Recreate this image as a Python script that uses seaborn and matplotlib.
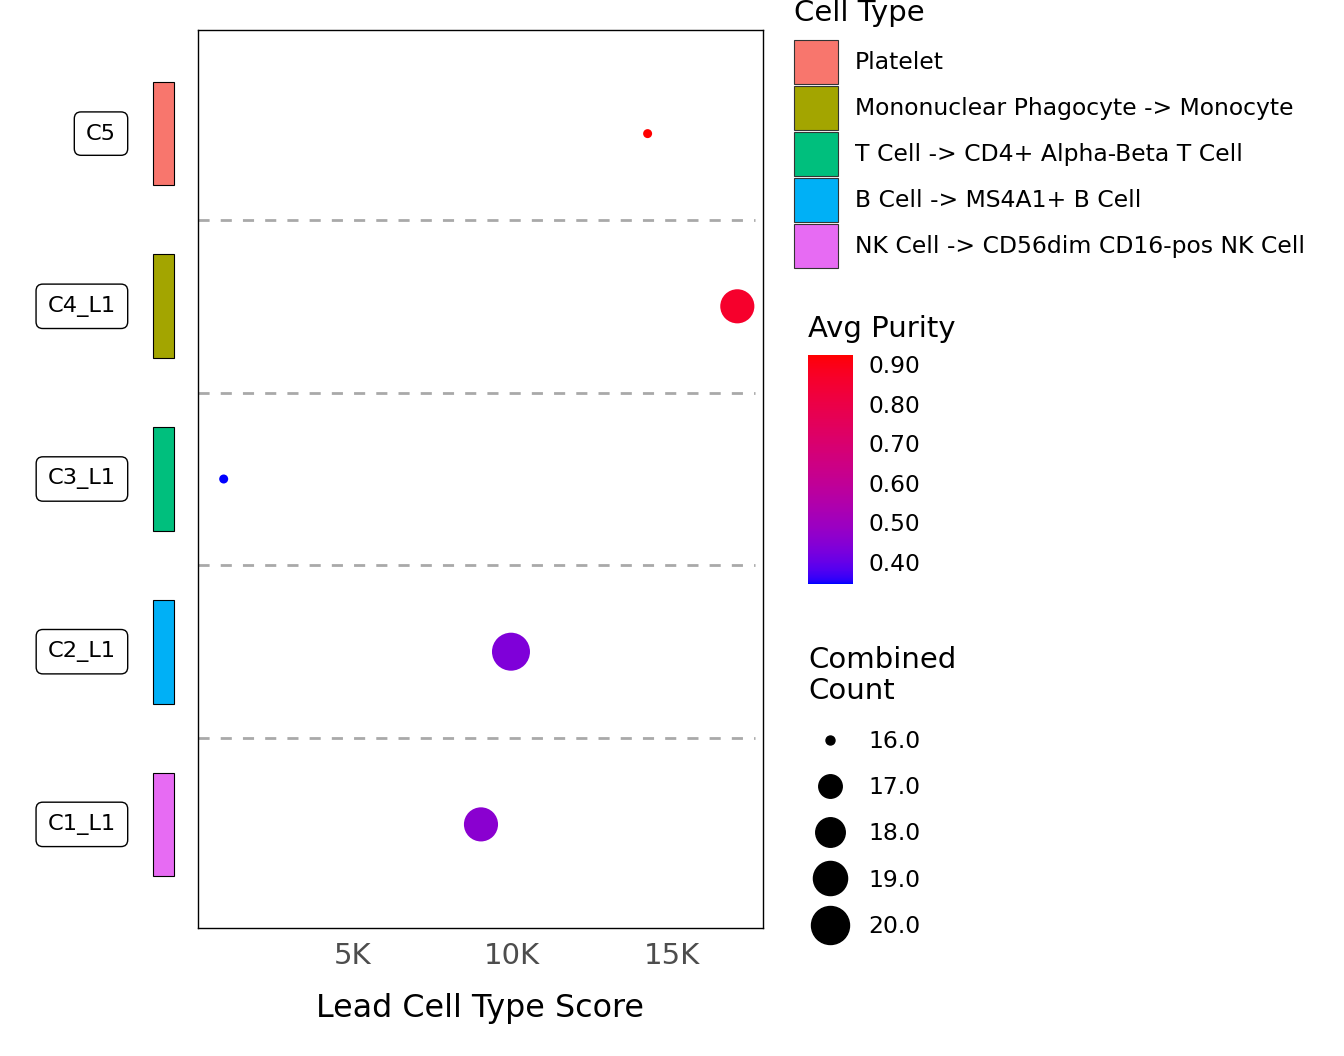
import matplotlib
matplotlib.use('Agg')
import matplotlib.pyplot as plt
import numpy as np
import pandas as pd
import seaborn as sns
from matplotlib.cm import ScalarMappable
from matplotlib.colors import ListedColormap, Normalize, to_rgb
from matplotlib.lines import Line2D
from matplotlib.patches import Patch
from matplotlib.ticker import FuncFormatter
from matplotlib.transforms import blended_transform_factory

clusters = ['C1_L1', 'C2_L1', 'C3_L1', 'C4_L1', 'C5']
cell_types = [
    'NK Cell -> CD56dim CD16-pos NK Cell',
    'B Cell -> MS4A1+ B Cell',
    'T Cell -> CD4+ Alpha-Beta T Cell',
    'Mononuclear Phagocyte -> Monocyte',
    'Platelet',
]
type_colors = ['#E76BF3', '#00B0F6', '#00BF7D', '#A3A500', '#F8766D']
lead_score = [9030, 9970, 970, 17060, 14250]
avg_purity = [0.455, 0.435, 0.344, 0.86, 0.923]
combined_count = [19, 20, 16, 19, 16]
purity_ticks = [0.4, 0.5, 0.6, 0.7, 0.8, 0.9]
count_breaks = [16, 17, 18, 19, 20]
score_ticks = [5000, 10000, 15000]

W, H = 1344, 1056

# blue -> red gradient interpolated in CIELAB (like ggplot)
M = np.array([[0.4124, 0.3576, 0.1805],
              [0.2126, 0.7152, 0.0722],
              [0.0193, 0.1192, 0.9505]])
WHITE = np.array([0.95047, 1.0, 1.08883])


def to_lab(c):
    rgb = np.array(to_rgb(c))
    lin = np.where(rgb <= 0.04045, rgb / 12.92, ((rgb + 0.055) / 1.055) ** 2.4)
    xyz = M @ lin / WHITE
    f = np.where(xyz > 216 / 24389, np.cbrt(xyz), (24389 / 27 * xyz + 16) / 116)
    return np.array([116 * f[1] - 16, 500 * (f[0] - f[1]), 200 * (f[1] - f[2])])


def from_lab(lab):
    fy = (lab[0] + 16) / 116
    f = np.array([fy + lab[1] / 500, fy, fy - lab[2] / 200])
    xyz = np.where(f ** 3 > 216 / 24389, f ** 3, (116 * f - 16) / (24389 / 27))
    lin = np.clip(np.linalg.inv(M) @ (xyz * WHITE), 0, 1)
    rgb = np.where(lin <= 0.0031308, 12.92 * lin, 1.055 * lin ** (1 / 2.4) - 0.055)
    return np.clip(rgb, 0, 1)


lab_lo, lab_hi = to_lab('blue'), to_lab('red')
cmap = ListedColormap([
    from_lab(lab_lo + t * (lab_hi - lab_lo)) for t in np.linspace(0, 1, 256)
])


def diam_px(v):
    lo, hi = min(combined_count), max(combined_count)
    return 9 + 29 * np.sqrt((v - lo) / (hi - lo))


df = pd.DataFrame({
    'cluster': clusters, 'row': np.arange(len(clusters)),
    'score': lead_score, 'purity': avg_purity, 'count': combined_count,
})
size_map = {v: (diam_px(v) * 0.72) ** 2 for v in sorted(set(combined_count))}
p_lo, p_hi = min(avg_purity), max(avg_purity)

sns.set_theme(style='white')
plt.rcParams['font.family'] = ['DejaVu Sans']
plt.rcParams['text.color'] = 'black'
plt.rcParams['axes.labelcolor'] = 'black'

fig = plt.figure(figsize=(W / 100, H / 100), dpi=100)
ax = fig.add_axes([198 / W, 1 - 928 / H, 565 / W, 898 / H])

sns.scatterplot(
    data=df, x='score', y='row', hue='purity', palette=cmap,
    hue_norm=(p_lo, p_hi), size='count', sizes=size_map, legend=False,
    linewidth=0, alpha=1, ax=ax, zorder=3
)
for b in np.arange(len(clusters) - 1) + 0.5:
    ax.axhline(b, xmax=0.985, color='#A9A9A9', lw=2, ls=(0, (4, 4)), zorder=1)

x_pad = 0.05 * (max(lead_score) - min(lead_score))
ax.set_xlim(min(lead_score) - x_pad, max(lead_score) + x_pad)
ax.set_ylim(-0.6, len(clusters) - 0.4)
ax.set_xticks(score_ticks)
ax.xaxis.set_major_formatter(FuncFormatter(lambda v, _: f'{v / 1000:.0f}K'))
ax.set_yticks([])
ax.tick_params(axis='x', length=0, pad=10, labelsize=21, labelcolor='#4D4D4D')
ax.set_xlabel('Lead Cell Type Score', fontsize=22.9, labelpad=17)
ax.set_ylabel('')
for s in ax.spines.values():
    s.set_color('black')
    s.set_linewidth(1.0)

# cluster colour strip
ax_strip = fig.add_axes([153 / W, 1 - 928 / H, 21 / W, 898 / H])
ax_strip.barh(df['row'], 1, height=0.6, color=type_colors,
              edgecolor='black', linewidth=0.8, clip_on=False)
ax_strip.set_xlim(0, 1)
ax_strip.set_ylim(ax.get_ylim())
ax_strip.axis('off')

# cluster label boxes
tr = blended_transform_factory(fig.transFigure, ax.transData)
for i, name in enumerate(clusters):
    ax.text(116 / W, i, name, transform=tr, ha='right', va='center',
            fontsize=16.2, clip_on=False,
            bbox=dict(boxstyle='round,pad=0.52,rounding_size=0.3',
                      facecolor='white', edgecolor='black', linewidth=1.0))

# cell type legend
fig.text(794 / W, 1 - 21 / H, 'Cell Type', fontsize=21, va='baseline')
fig.legend(
    handles=[Patch(facecolor=c, edgecolor='#333333', linewidth=0.8)
             for c in type_colors[::-1]],
    labels=cell_types[::-1], loc='upper left',
    bbox_to_anchor=(794 / W, 1 - 40 / H), frameon=False, fontsize=16.9,
    handlelength=1.875, handleheight=2.51, labelspacing=0.085,
    handletextpad=0.72, borderpad=0, borderaxespad=0, labelcolor='black'
)

# purity colour bar
fig.text(808 / W, 1 - 337 / H, 'Avg Purity', fontsize=21, va='baseline')
cax = fig.add_axes([808 / W, 1 - 584 / H, 45 / W, 229 / H])
cbar = fig.colorbar(ScalarMappable(norm=Normalize(p_lo, p_hi), cmap=cmap),
                    cax=cax, ticks=purity_ticks, format='%.2f')
cbar.outline.set_visible(False)
cax.tick_params(direction='in', color='white', length=6.5, width=1,
                left=True, right=True, labelsize=16.8, pad=11.5,
                labelcolor='black')

# combined count legend
fig.text(808 / W, 1 - 699 / H, 'Combined\nCount', fontsize=21,
         va='baseline', linespacing=1.14)
fig.legend(
    handles=[Line2D([], [], ls='none', marker='o', color='black',
                    markersize=diam_px(v) * 0.72) for v in count_breaks],
    labels=[f'{v:.1f}' for v in count_breaks], loc='upper left',
    bbox_to_anchor=(808 / W, 1 - 730 / H), frameon=False, fontsize=16.9,
    handlelength=1.875, labelspacing=0.99, handletextpad=0.7,
    borderpad=0, borderaxespad=0, labelcolor='black'
)

fig.savefig('out.png', dpi=100)
